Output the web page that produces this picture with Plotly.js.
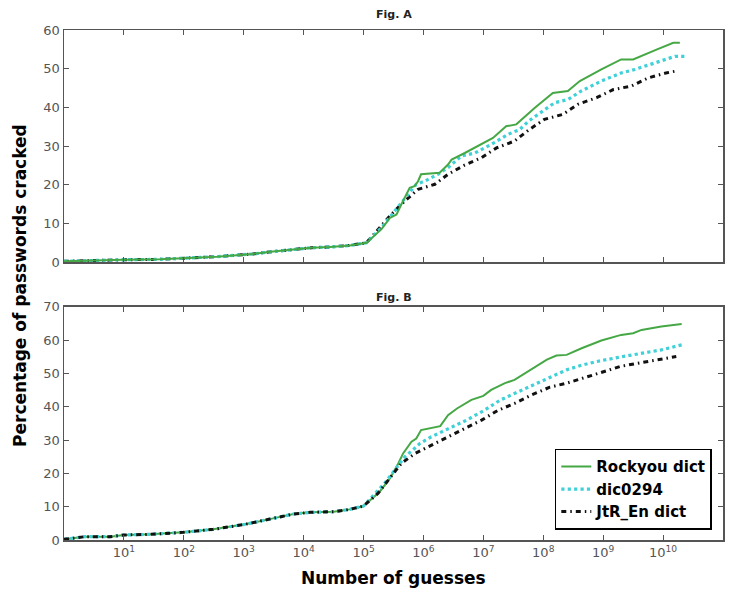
<!DOCTYPE html>
<html><head>
<script src="https://cdn.plot.ly/plotly-3.0.1.min.js"></script>
<style>body{margin:0;background:#fff}</style>
</head><body>
<div id="chart" style="width:736px;height:593px"></div>
<script>
// log10(number of guesses) and percentage cracked
// Fig. A
var lowExpA = [0, 0.38, 0.65, 1.0, 1.6, 2.0, 2.27, 2.55, 2.88, 3.16, 3.49, 3.83, 4.13, 4.44, 4.77, 5.05];
var lowValA = [0.2, 0.4, 0.5, 0.6, 0.7, 0.9, 1.2, 1.4, 1.7, 2.1, 2.7, 3.3, 3.7, 3.9, 4.3, 5.0];
var rockExpA = [5.3, 5.44, 5.55, 5.65, 5.77, 5.85, 5.91, 5.96, 6.27, 6.41, 6.47, 6.69, 6.97, 7.16, 7.38, 7.55, 7.86, 8.02, 8.16, 8.41, 8.61, 8.97, 9.3, 9.5, 9.7, 9.9, 10.17, 10.28];
var rockValA = [8.5, 11.4, 12.3, 15.5, 19.2, 19.6, 20.9, 22.7, 23.1, 25.2, 26.5, 28.2, 30.4, 32.1, 35.1, 35.6, 39.9, 41.8, 43.7, 44.2, 46.8, 49.8, 52.4, 52.4, 53.8, 55.0, 56.7, 56.7];
var dicExpA = [5.3, 5.52, 5.74, 5.88, 6.02, 6.24, 6.41, 6.63, 6.86, 7.13, 7.41, 7.61, 7.75, 8.02, 8.19, 8.41, 8.63, 8.97, 9.3, 9.53, 9.92, 10.2, 10.36];
var dicValA = [8.9, 13.2, 17.5, 20.1, 20.9, 22.7, 24.4, 27.4, 28.2, 30.4, 33.0, 34.3, 36.4, 39.5, 41.2, 42.0, 44.2, 46.8, 48.9, 49.8, 51.9, 53.2, 53.2];
var jtrExpA = [5.27, 5.46, 5.69, 5.91, 6.19, 6.41, 6.69, 6.97, 7.22, 7.52, 7.77, 8.02, 8.33, 8.58, 8.89, 9.17, 9.47, 9.75, 10.05, 10.22];
var jtrValA = [8.9, 12.3, 15.8, 18.8, 20.1, 22.7, 25.1, 27.0, 29.5, 31.3, 34.3, 36.9, 38.2, 40.8, 42.5, 44.6, 45.5, 47.6, 48.9, 49.4];
// Fig. B
var lowExpB = [0, 0.35, 0.77, 1.0, 1.44, 1.99, 2.49, 3.02, 3.49, 3.83, 4.11, 4.5, 4.77, 5.0];
var lowValB = [0.2, 1.0, 1.0, 1.5, 1.7, 2.3, 3.2, 4.7, 6.5, 7.8, 8.3, 8.5, 9.2, 10.2];
var rockExpB = [5.27, 5.44, 5.58, 5.66, 5.8, 5.88, 5.96, 6.11, 6.28, 6.41, 6.56, 6.8, 7.0, 7.13, 7.36, 7.52, 7.69, 7.86, 8.06, 8.22, 8.39, 8.64, 8.97, 9.3, 9.5, 9.64, 9.97, 10.31];
var rockValB = [14.5, 18.5, 23.0, 26.0, 29.5, 30.5, 33.0, 33.5, 34.2, 37.5, 39.5, 42.1, 43.3, 45.1, 47.1, 48.1, 50.1, 52.1, 54.2, 55.4, 55.6, 57.6, 59.9, 61.6, 62.1, 63.1, 64.1, 64.9];
var dicExpB = [5.35, 5.52, 5.69, 5.85, 5.94, 6.13, 6.41, 6.72, 7.02, 7.28, 7.58, 7.84, 8.11, 8.39, 8.64, 8.89, 9.3, 9.64, 9.97, 10.31];
var dicValB = [17.0, 21.0, 25.0, 27.5, 29.0, 31.0, 33.5, 36.0, 39.0, 42.0, 44.5, 46.6, 49.0, 51.1, 52.5, 53.6, 55.0, 56.1, 57.1, 58.6];
var jtrExpB = [5.24, 5.44, 5.63, 5.86, 6.13, 6.41, 6.69, 6.97, 7.25, 7.52, 7.81, 8.11, 8.39, 8.84, 9.28, 9.58, 9.92, 10.22];
var jtrValB = [14.0, 18.5, 23.0, 26.0, 28.5, 31.0, 33.5, 36.0, 39.0, 41.0, 43.6, 45.9, 47.1, 49.6, 52.1, 53.1, 54.1, 55.1];

var seriesNames = ['Rockyou dict', 'dic0294', 'JtR_En dict'];
var tickExps = [1,2,3,4,5,6,7,8,9,10,11];

function pts(lowE, lowV, e, v) {
  var ex = lowE.concat(e), vy = lowV.concat(v);
  return {x: ex.map(function(k){return Math.pow(10,k);}), y: vy};
}
var styles = [
  {color:'#45a845', width:2, dash:'solid'},
  {color:'#3fd0d8', width:3.2, dash:'dot'},
  {color:'#111111', width:3, dash:'5px,4px,1.5px,4px'}
];
var dataA = [[rockExpA, rockValA],[dicExpA, dicValA],[jtrExpA, jtrValA]];
var dataB = [[rockExpB, rockValB],[dicExpB, dicValB],[jtrExpB, jtrValB]];
var traces = [];
[2,1,0].forEach(function(i){
  var p = pts(lowExpA, lowValA, dataA[i][0], dataA[i][1]);
  traces.push({x:p.x, y:p.y, xaxis:'x2', yaxis:'y2', mode:'lines', name:seriesNames[i],
    showlegend:false, line:styles[i]});
});
[0,1,2].forEach(function(i){
  var p = pts(lowExpB, lowValB, dataB[i][0], dataB[i][1]);
  traces.push({x:p.x, y:p.y, xaxis:'x', yaxis:'y', mode:'lines', name:seriesNames[i],
    showlegend:true, line:styles[i]});
});

var tickFont = {family:'DejaVu Sans, sans-serif', size:13, color:'#555'};
var axBase = {showline:true, linecolor:'#555', linewidth:1.5, mirror:'ticks', ticks:'inside',
  ticklen:5, tickwidth:1, tickcolor:'#555', showgrid:false, zeroline:false, tickfont:tickFont};
function ax(extra){ var o = {}; for (var k in axBase) o[k]=axBase[k]; for (var k2 in extra) o[k2]=extra[k2]; return o; }

var layout = {
  width:736, height:593,
  margin:{l:64, r:13, t:30, b:53},
  paper_bgcolor:'#fff', plot_bgcolor:'#fff',
  font:{family:'DejaVu Sans, sans-serif'},
  xaxis: ax({type:'log', range:[0,11], anchor:'y', tickvals:tickExps.map(function(k){return Math.pow(10,k);}),
    ticktext:tickExps.map(function(k){return '10<sup>'+k+'</sup>';})}),
  yaxis: ax({domain:[0,0.457], range:[0,70], dtick:10, anchor:'x'}),
  xaxis2: ax({type:'log', range:[0,11], anchor:'y2', tickvals:tickExps.map(function(k){return Math.pow(10,k);}), showticklabels:false}),
  yaxis2: ax({domain:[0.545,1], range:[0,60], dtick:10, anchor:'x2'}),
  showlegend:true,
  legend:{x:0.983, xanchor:'right', y:0.02, yanchor:'bottom', bordercolor:'#000', borderwidth:1.5,
    bgcolor:'#fff', font:{family:'DejaVu Sans, sans-serif', size:15, color:'#000', weight:'bold'}},
  annotations:[
    {text:'Fig. A', xref:'paper', yref:'paper', x:0.5, y:1.031, xanchor:'center', yanchor:'middle', showarrow:false,
      font:{size:11, color:'#222', weight:'bold'}},
    {text:'Fig. B', xref:'paper', yref:'paper', x:0.5, y:0.476, xanchor:'center', yanchor:'middle', showarrow:false,
      font:{size:11, color:'#222', weight:'bold'}},
    {text:'Percentage of passwords cracked', xref:'paper', yref:'paper', x:-0.0668, y:0.5, xanchor:'center', yanchor:'middle',
      textangle:-90, showarrow:false, font:{size:17, color:'#000', weight:'bold'}},
    {text:'Number of guesses', xref:'paper', yref:'paper', x:0.5, y:-0.0745, xanchor:'center', yanchor:'middle',
      showarrow:false, font:{size:17, color:'#000', weight:'bold'}}
  ]
};
Plotly.newPlot('chart', traces, layout, {displayModeBar:false, staticPlot:true});
</script>
</body></html>
